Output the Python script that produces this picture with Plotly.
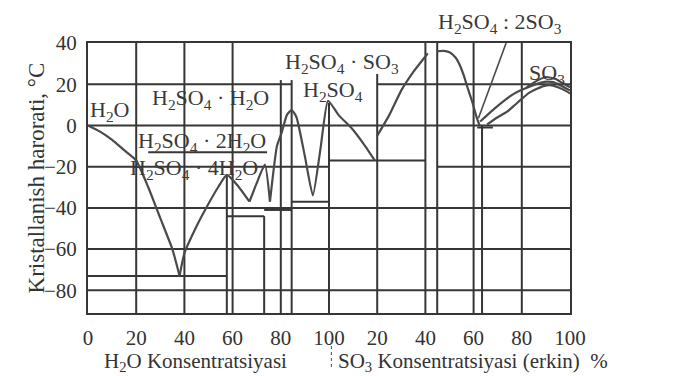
import plotly.graph_objects as go

# ---------------- data ----------------
# combined composition scale: 0-100 = % H2SO4 (H2O part), 100-200 = 0-100 % free SO3
X_MIN, X_MAX = 0, 200
Y_MIN, Y_MAX = -91, 40
x_tick_vals = [0, 20, 40, 60, 80, 100, 120, 140, 160, 180, 200]
x_tick_text = ["0", "20", "40", "60", "80", "100", "20", "40", "60", "80", "100"]
y_tick_vals = [-80, -60, -40, -20, 0, 20, 40]

# liquidus curves
ice_x = [0, 5, 10, 15, 20, 25, 30, 35, 38]
ice_y = [0, -3, -7, -12, -17, -30, -45, -60, -73]
tetra_x = [38, 40, 45, 50, 54, 57.6, 62, 67]
tetra_y = [-73, -62, -49, -38, -30, -24, -29, -37]
dihyd_x = [67, 70, 73.4, 75.5]
dihyd_y = [-37, -28, -19, -37]
acid_x = [75.5, 78.4, 80.5, 82.5, 84.5, 86.5, 90, 93.3, 96.5, 99.6, 104, 109.5, 115, 119]
acid_y = [-37, -10, -3, 5, 7.5, 4, -15, -34, -11, 12, 5, -1.5, -10, -17]
oleum1_x = [120, 125, 130, 135, 139, 141]
oleum1_y = [-5, 5, 17, 26, 32, 35]
oleum2_x = [145, 147.5, 150, 152.5, 154.4, 156, 157.3, 159.3, 161.4, 162.5]
oleum2_y = [36, 36.2, 35.5, 33, 29, 24, 19, 12, 3.4, 0]
so3a_x = [162.7, 167, 172.2, 176, 179.3, 184.2, 188, 190.5, 193, 195.9, 200]
so3a_y = [1.9, 6.5, 11.6, 14.8, 16.9, 19.3, 20.8, 21.3, 21, 19.5, 17]
so3b_x = [165.6, 170, 173.9, 177, 180.1, 183, 186.3, 189, 191.7, 195, 198.8, 200]
so3b_y = [0.5, 4, 6.7, 9.8, 13, 15.8, 17.8, 19.1, 19.6, 18.5, 16.4, 15.5]
so3c_x = [182, 186, 190, 194, 197, 200]
so3c_y = [18.5, 21.5, 23.5, 22.5, 20.5, 18.5]
leader_x = [162, 173.5]
leader_y = [3.5, 40]

# vertical lines (composition / grid), from bottom up to v_top
v_x = [20, 40, 60, 140, 160, 180, 57.6, 73.1, 80, 84.5, 100, 120, 144.9, 163.5]
v_top = [40, 40, 40, 40, 40, 40, -24, -44, 22, 22, 11, 25, 40, 0]
# horizontal lines (grid / eutectic temperatures)
h_y = [20, 20, 0, -20, -20, -17, -37, -40, -41, -44, -60, -73, -80, -13, -1]
h_x0 = [0, 120, 0, 0, 144.9, 100, 84.5, 0, 73.1, 57.6, 0, 0, 0, 25, 161.5]
h_x1 = [84.5, 200, 200, 100, 200, 140, 100, 200, 84.5, 73.1, 200, 57.6, 200, 74.3, 168]

# labels inside the plot (data coordinates)
lab_text = ["H<sub>2</sub>O", "H<sub>2</sub>SO<sub>4</sub> · H<sub>2</sub>O",
            "H<sub>2</sub>SO<sub>4</sub> · 2H<sub>2</sub>O", "H<sub>2</sub>SO<sub>4</sub> · 4H<sub>2</sub>O",
            "H<sub>2</sub>SO<sub>4</sub> · SO<sub>3</sub>", "H<sub>2</sub>SO<sub>4</sub>",
            "SO<sub>3</sub>"]
lab_x = [0.2, 51, 47.3, 44, 105.4, 101.7, 190.5]
lab_y = [7.2, 13, -7.8, -21, 30.4, 16.9, 25]
lab_anchor = ["left", "center", "center", "center", "center", "center", "center"]
# label above the plot
top_label = "H<sub>2</sub>SO<sub>4</sub> : 2SO<sub>3</sub>"
top_label_x = 171

# ---------------- figure ----------------
LINE = "#363636"
CURVE = "#4a4a4a"
FONT = "Liberation Serif"

fig = go.Figure()

vx, vy = [], []
for x, top in zip(v_x, v_top):
    vx += [x, x, None]
    vy += [Y_MIN, top, None]
fig.add_trace(go.Scatter(x=vx, y=vy, mode="lines", line=dict(color=LINE, width=2),
                         hoverinfo="skip", showlegend=False))
hx, hy = [], []
for y, a, b in zip(h_y, h_x0, h_x1):
    hx += [a, b, None]
    hy += [y, y, None]
fig.add_trace(go.Scatter(x=hx, y=hy, mode="lines", line=dict(color=LINE, width=2),
                         hoverinfo="skip", showlegend=False))

for cx, cy in [(ice_x, ice_y), (tetra_x, tetra_y), (dihyd_x, dihyd_y), (acid_x, acid_y),
               (oleum1_x, oleum1_y), (oleum2_x, oleum2_y), (so3a_x, so3a_y),
               (so3b_x, so3b_y), (so3c_x, so3c_y)]:
    fig.add_trace(go.Scatter(x=cx, y=cy, mode="lines",
                             line=dict(color=CURVE, width=2.2, shape="spline", smoothing=0.5),
                             hoverinfo="skip", showlegend=False))
fig.add_trace(go.Scatter(x=leader_x, y=leader_y, mode="lines", line=dict(color=CURVE, width=1.6),
                         hoverinfo="skip", showlegend=False))

for t, x, y, a in zip(lab_text, lab_x, lab_y, lab_anchor):
    fig.add_annotation(x=x, y=y, xref="x", yref="y", text=t, showarrow=False,
                       xanchor=a, yanchor="middle", font=dict(family=FONT, size=22, color="#3a3a3a"))
fig.add_annotation(x=top_label_x, y=1.075, xref="x", yref="paper", text=top_label, showarrow=False,
                   xanchor="center", yanchor="middle", font=dict(family=FONT, size=22, color="#3a3a3a"))

# axis titles
fig.add_annotation(xref="paper", yref="paper", x=-0.137, y=0.5, text="Kristallanish harorati, °C",
                   textangle=-90, showarrow=False, font=dict(family=FONT, size=23, color="#333"))
fig.add_annotation(xref="x", yref="paper", x=44.5, y=-0.18, text="H<sub>2</sub>O Konsentratsiyasi",
                   showarrow=False, xanchor="center", yanchor="middle",
                   font=dict(family=FONT, size=21, color="#333"))
fig.add_annotation(xref="x", yref="paper", x=103, y=-0.18,
                   text="SO<sub>3</sub> Konsentratsiyasi (erkin)  %",
                   showarrow=False, xanchor="left", yanchor="middle",
                   font=dict(family=FONT, size=21, color="#333"))
fig.add_shape(type="line", xref="x", yref="paper", x0=101, x1=101, y0=-0.10, y1=-0.2,
              line=dict(color="#666", width=1.2, dash="dot"))

# page body has an 8px margin, so the figure is sized/offset to land the plot at the reference spot
fig.update_layout(
    width=672, height=368,
    margin=dict(l=80, r=110, t=35, b=63),
    paper_bgcolor="white", plot_bgcolor="white",
    xaxis=dict(range=[X_MIN, X_MAX], tickvals=x_tick_vals, ticktext=x_tick_text,
               showgrid=False, zeroline=False, showline=True, mirror=True,
               linecolor=LINE, linewidth=2, ticks="outside", ticklen=5,
               tickcolor="rgba(0,0,0,0)", tickfont=dict(family=FONT, size=21, color="#333")),
    yaxis=dict(range=[Y_MIN, Y_MAX], tickvals=y_tick_vals,
               showgrid=False, zeroline=False, showline=True, mirror=True,
               linecolor=LINE, linewidth=2, ticks="outside", ticklen=5,
               tickcolor="rgba(0,0,0,0)", tickfont=dict(family=FONT, size=21, color="#333")),
)

fig.write_html("out.html")
